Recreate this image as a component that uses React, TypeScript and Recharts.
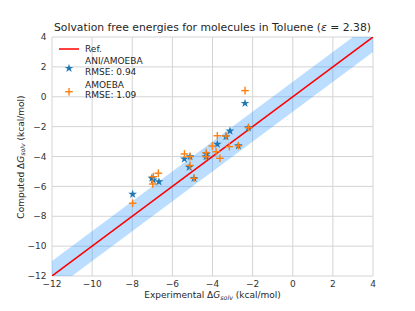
import { ComposedChart, Area, Line, Scatter, XAxis, YAxis, CartesianGrid } from 'recharts';

// experimental vs computed solvation free energies (kcal/mol)
const aniExp = [-7.98, -6.95, -6.67, -7.02, -5.40, -5.12, -5.16, -4.92, -4.32, -4.30, -3.76, -3.33, -3.13, -2.71, -2.21, -2.38];
const aniCalc = [-6.53, -5.57, -5.69, -5.45, -4.17, -4.01, -4.72, -5.46, -4.01, -3.85, -3.18, -2.67, -2.29, -3.28, -2.07, -0.44];

const amoebaExp = [-7.98, -6.95, -6.70, -6.98, -5.40, -5.12, -5.12, -4.92, -4.32, -4.32, -4.01, -3.82, -3.63, -3.76, -3.33, -3.16, -2.71, -2.21, -2.38];
const amoebaCalc = [-7.13, -5.35, -5.12, -5.84, -3.83, -4.01, -4.60, -5.46, -3.74, -4.01, -3.30, -3.68, -4.12, -2.61, -2.63, -3.34, -3.28, -2.07, 0.41];

const refX = [-12, 4];
const bandWidth = 1;
const ticks = [-12, -10, -8, -6, -4, -2, 0, 2, 4];

const refData = refX.map(x => ({ x, ref: x, band: [x - bandWidth, x + bandWidth] }));
const aniData = aniExp.map((x, i) => ({ x, y: aniCalc[i] }));
const amoebaData = amoebaExp.map((x, i) => ({ x, y: amoebaCalc[i] }));

const BLUE = '#1f77b4';
const ORANGE = '#ff7f0e';
const FONT = '"DejaVu Sans", sans-serif';

const fmt = (v: number) => (v < 0 ? '\u2212' + Math.abs(v) : String(v));

function starPath(cx: number, cy: number, r: number) {
  const inner = r * 0.382;
  const pts: string[] = [];
  for (let i = 0; i < 10; i++) {
    const rr = i % 2 === 0 ? r : inner;
    const a = -Math.PI / 2 + (i * Math.PI) / 5;
    pts.push(`${(cx + rr * Math.cos(a)).toFixed(2)},${(cy + rr * Math.sin(a)).toFixed(2)}`);
  }
  return 'M' + pts.join('L') + 'Z';
}

const StarShape = (props: any) => <path d={starPath(props.cx, props.cy, 4.6)} fill={BLUE} />;

const PlusShape = (props: any) => {
  const { cx, cy } = props;
  const s = 3.8;
  return (
    <g stroke={ORANGE} strokeWidth={1.4}>
      <line x1={cx - s} y1={cy} x2={cx + s} y2={cy} />
      <line x1={cx} y1={cy - s} x2={cx} y2={cy + s} />
    </g>
  );
};

// legend drawn by hand so it doesn't eat into the plot area
function LegendBox({ x, y }: { x: number; y: number }) {
  const t = { fontFamily: FONT, fontSize: 9, fill: '#262626' };
  return (
    <g transform={`translate(${x},${y})`}>
      <line x1={4} y1={9} x2={24} y2={9} stroke="#ff0000" strokeWidth={1.5} />
      <text x={30} y={12.3} {...t}>Ref.</text>
      <path d={starPath(14, 28.3, 4.6)} fill={BLUE} />
      <text x={30} y={24.3} {...t}>ANI/AMOEBA</text>
      <text x={30} y={35} {...t}>RMSE: 0.94</text>
      <g stroke={ORANGE} strokeWidth={1.4}>
        <line x1={10.2} y1={51.7} x2={17.8} y2={51.7} />
        <line x1={14} y1={47.9} x2={14} y2={55.5} />
      </g>
      <text x={30} y={48.3} {...t}>AMOEBA</text>
      <text x={30} y={58.3} {...t}>RMSE: 1.09</text>
    </g>
  );
}

export default function App() {
  const tick = { fill: '#333', fontSize: 9, fontFamily: FONT };
  return (
    <div style={{ position: 'absolute', left: 0, top: 0, width: 415, height: 311, background: '#fff' }}>
      <ComposedChart width={415} height={311} data={refData} margin={{ top: 37, right: 42, bottom: 0, left: 0 }}>
        <CartesianGrid stroke="#d4d4d4" strokeWidth={1} />
        <XAxis
          type="number"
          dataKey="x"
          domain={[-12, 4]}
          ticks={ticks}
          allowDataOverflow
          axisLine={false}
          tickLine={false}
          tickSize={0}
          tickMargin={5}
          height={35}
          tick={tick}
          tickFormatter={fmt}
        />
        <YAxis
          type="number"
          domain={[-12, 4]}
          ticks={ticks}
          allowDataOverflow
          axisLine={false}
          tickLine={false}
          tickSize={0}
          tickMargin={5.5}
          width={52}
          tick={tick}
          tickFormatter={fmt}
        />
        <Area dataKey="band" fill="#1e90ff" fillOpacity={0.3} stroke="none" isAnimationActive={false} />
        <Line dataKey="ref" stroke="#ff0000" strokeWidth={1.5} dot={false} isAnimationActive={false} />
        <Scatter data={aniData} dataKey="y" shape={StarShape} isAnimationActive={false} />
        <Scatter data={amoebaData} dataKey="y" shape={PlusShape} isAnimationActive={false} />
      </ComposedChart>
      <svg width={415} height={311} style={{ position: 'absolute', left: 0, top: 0, pointerEvents: 'none' }}>
        <LegendBox x={55} y={40} />
        <text x={212.5} y={30.5} textAnchor="middle" fontFamily={FONT} fontSize={10.8} fill="#262626">
          Solvation free energies for molecules in Toluene (<tspan fontStyle="italic">ε</tspan> = 2.38)
        </text>
        <text x={212.5} y={298} textAnchor="middle" fontFamily={FONT} fontSize={9} fill="#262626">
          Experimental Δ<tspan fontStyle="italic">G</tspan>
          <tspan fontStyle="italic" fontSize={6.3} dy={1.8}>solv</tspan>
          <tspan dy={-1.8}> (kcal/mol)</tspan>
        </text>
        <text
          transform="translate(23.5,157) rotate(-90)"
          x={0}
          y={0}
          textAnchor="middle"
          fontFamily={FONT}
          fontSize={9}
          fill="#262626"
        >
          Computed Δ<tspan fontStyle="italic">G</tspan>
          <tspan fontStyle="italic" fontSize={6.3} dy={1.8}>solv</tspan>
          <tspan dy={-1.8}> (kcal/mol)</tspan>
        </text>
      </svg>
    </div>
  );
}
